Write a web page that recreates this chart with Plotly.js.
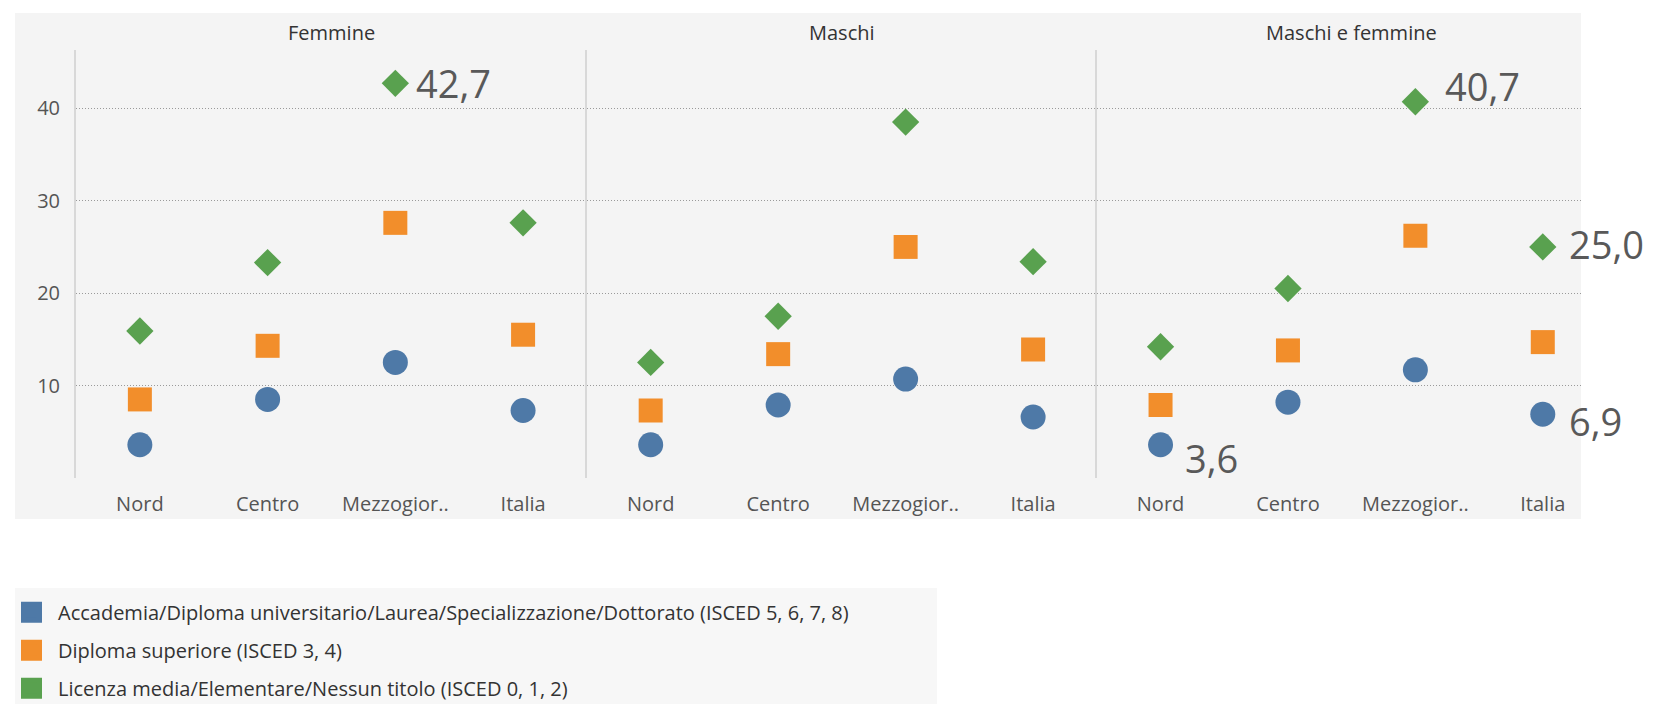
<!DOCTYPE html>
<html>
<head>
<meta charset="utf-8">
<script src="https://cdn.plot.ly/plotly-3.0.1.min.js"></script>
<style>
  body { margin: 0; background: #ffffff; }
  #chart { width: 1661px; height: 704px; }
</style>
</head>
<body>
<div id="chart"></div>
<script>
// categories and facets
var categories = ["Nord", "Centro", "Mezzogiorno", "Italia"];
var tickLabels = ["Nord", "Centro", "Mezzogior..", "Italia"];
var panels = ["Femmine", "Maschi", "Maschi e femmine"];
var seriesNames = [
  "Accademia/Diploma universitario/Laurea/Specializzazione/Dottorato (ISCED 5, 6, 7, 8)",
  "Diploma superiore (ISCED 3, 4)",
  "Licenza media/Elementare/Nessun titolo (ISCED 0, 1, 2)"
];

// values (%), one array per facet and title of study
var femmineLaurea = [3.6, 8.5, 12.5, 7.3];
var femmineDiploma = [8.5, 14.3, 27.6, 15.5];
var femmineLicenza = [15.9, 23.3, 42.7, 27.6];

var maschiLaurea = [3.6, 7.9, 10.7, 6.6];
var maschiDiploma = [7.3, 13.4, 25.0, 13.9];
var maschiLicenza = [12.5, 17.5, 38.5, 23.4];

var totaleLaurea = [3.6, 8.2, 11.7, 6.9];
var totaleDiploma = [7.9, 13.8, 26.2, 14.7];
var totaleLicenza = [14.2, 20.5, 40.7, 25.0];

var panelValues = [
  [femmineLaurea, femmineDiploma, femmineLicenza],
  [maschiLaurea, maschiDiploma, maschiLicenza],
  [totaleLaurea, totaleDiploma, totaleLicenza]
];

// styles
var colors = ["#4e79a7", "#f28e2b", "#59a14f"];
var symbols = ["circle", "square", "diamond"];
var sizes = [25, 24, 21];
var axisIds = ["", "2", "3"];
// facet domains; the last pane is cut off at the right edge of the view
var domains = [[0, 0.3395], [0.3395, 0.6783], [0.6783, 1]];
var ranges = [[-0.5, 3.5], [-0.5, 3.5], [-0.5, 3.3]];

function fmt(v) {
  return v.toFixed(1).replace(".", ",");
}

var data = [];

//one trace per facet and series
for (var p = 0; p < panels.length; p++) {
  for (var s = 0; s < seriesNames.length; s++) {
    data.push({
      x: categories,
      y: panelValues[p][s],
      xaxis: "x" + axisIds[p],
      yaxis: "y" + axisIds[p],
      type: "scatter",
      mode: "markers",
      name: seriesNames[s],
      showlegend: false,
      hoverinfo: "x+y",
      marker: { color: colors[s], symbol: symbols[s], size: sizes[s], line: { width: 0 } }
    });
  }
}

//legend entries with square swatches
for (var s = 0; s < seriesNames.length; s++) {
  data.push({
    x: [null],
    y: [null],
    type: "scatter",
    mode: "markers",
    name: seriesNames[s],
    legendgroup: "g" + s,
    marker: { color: colors[s], symbol: "square", size: 16, line: { color: colors[s], width: 5 } }
  });
}

//value labels shown on the chart
var labelled = [
  { p: 0, values: femmineLicenza, i: 2, dx: 19, dy: 0 },
  { p: 2, values: totaleLicenza, i: 2, dx: 28, dy: 16 },
  { p: 2, values: totaleLicenza, i: 3, dx: 24, dy: 3 },
  { p: 2, values: totaleLaurea, i: 0, dx: 22, dy: -13 },
  { p: 2, values: totaleLaurea, i: 3, dx: 24, dy: -7 }
];

var annotations = labelled.map(function (l) {
  return {
    xref: "x" + axisIds[l.p],
    yref: "y" + axisIds[l.p],
    x: categories[l.i],
    y: l.values[l.i],
    text: fmt(l.values[l.i]),
    showarrow: false,
    xanchor: "left",
    yanchor: "middle",
    xshift: l.dx,
    yshift: l.dy,
    font: { family: "Open Sans", size: 38, color: "#595959" }
  };
});

//facet headers
panels.forEach(function (name, p) {
  annotations.push({
    xref: "x" + axisIds[p] + " domain",
    yref: "paper",
    x: p === 2 ? 0.5 * 510 / 485 : 0.5,
    y: 1.042,
    text: name,
    showarrow: false,
    xanchor: "center",
    yanchor: "middle",
    font: { family: "Open Sans", size: 20, color: "#333333" }
  });
});

var tickFont = { family: "Open Sans", size: 20, color: "#555555" };

var layout = {
  width: 1661,
  height: 704,
  margin: { l: 76, r: 80, t: 50, b: 226, autoexpand: false },
  paper_bgcolor: "#ffffff",
  plot_bgcolor: "rgba(0,0,0,0)",
  font: { family: "Open Sans", color: "#333333" },
  showlegend: true,
  legend: {
    xref: "container",
    yref: "container",
    x: 0.003,
    xanchor: "left",
    y: 0.158,
    yanchor: "top",
    itemwidth: 43,
    traceorder: "grouped",
    tracegroupgap: 9,
    bgcolor: "rgba(0,0,0,0)",
    font: { family: "Open Sans", size: 20, color: "#333333" }
  },
  annotations: annotations,
  shapes: [
    // grey pane behind the facets
    { type: "rect", xref: "paper", yref: "paper", x0: -0.0405, x1: 1.0, y0: -0.0958, y1: 1.0864,
      fillcolor: "#f4f4f4", line: { width: 0 }, layer: "below" },
    // grey box behind the legend
    { type: "rect", xref: "paper", yref: "paper", x0: -0.0405, x1: 0.5721, y0: -0.53, y1: -0.257,
      fillcolor: "#f7f7f7", line: { width: 0 }, layer: "below" }
  ]
};

//three facet axes side by side
for (var p = 0; p < panels.length; p++) {
  var id = axisIds[p];
  layout["xaxis" + id] = {
    domain: domains[p],
    anchor: "y" + id,
    type: "category",
    categoryorder: "array",
    categoryarray: categories,
    range: ranges[p],
    tickvals: categories,
    ticktext: tickLabels,
    tickfont: tickFont,
    tickangle: 0,
    ticks: "",
    ticklabelstandoff: 12,
    showgrid: false,
    zeroline: false,
    showline: false,
    fixedrange: true
  };
  layout["yaxis" + id] = {
    anchor: "x" + id,
    range: [0, 46.3],
    tickvals: [10, 20, 30, 40],
    tickfont: tickFont,
    showticklabels: p === 0,
    ticks: "",
    ticklabelstandoff: 10,
    showgrid: true,
    gridcolor: "#9a9a9a",
    gridwidth: 1,
    griddash: "1px,2px",
    zeroline: false,
    showline: true,
    linecolor: "#d8d8d8",
    linewidth: 2,
    fixedrange: true
  };
  if (p > 0) layout["yaxis" + id].matches = "y";
}

Plotly.newPlot("chart", data, layout, { displayModeBar: false, staticPlot: true });
</script>
</body>
</html>
